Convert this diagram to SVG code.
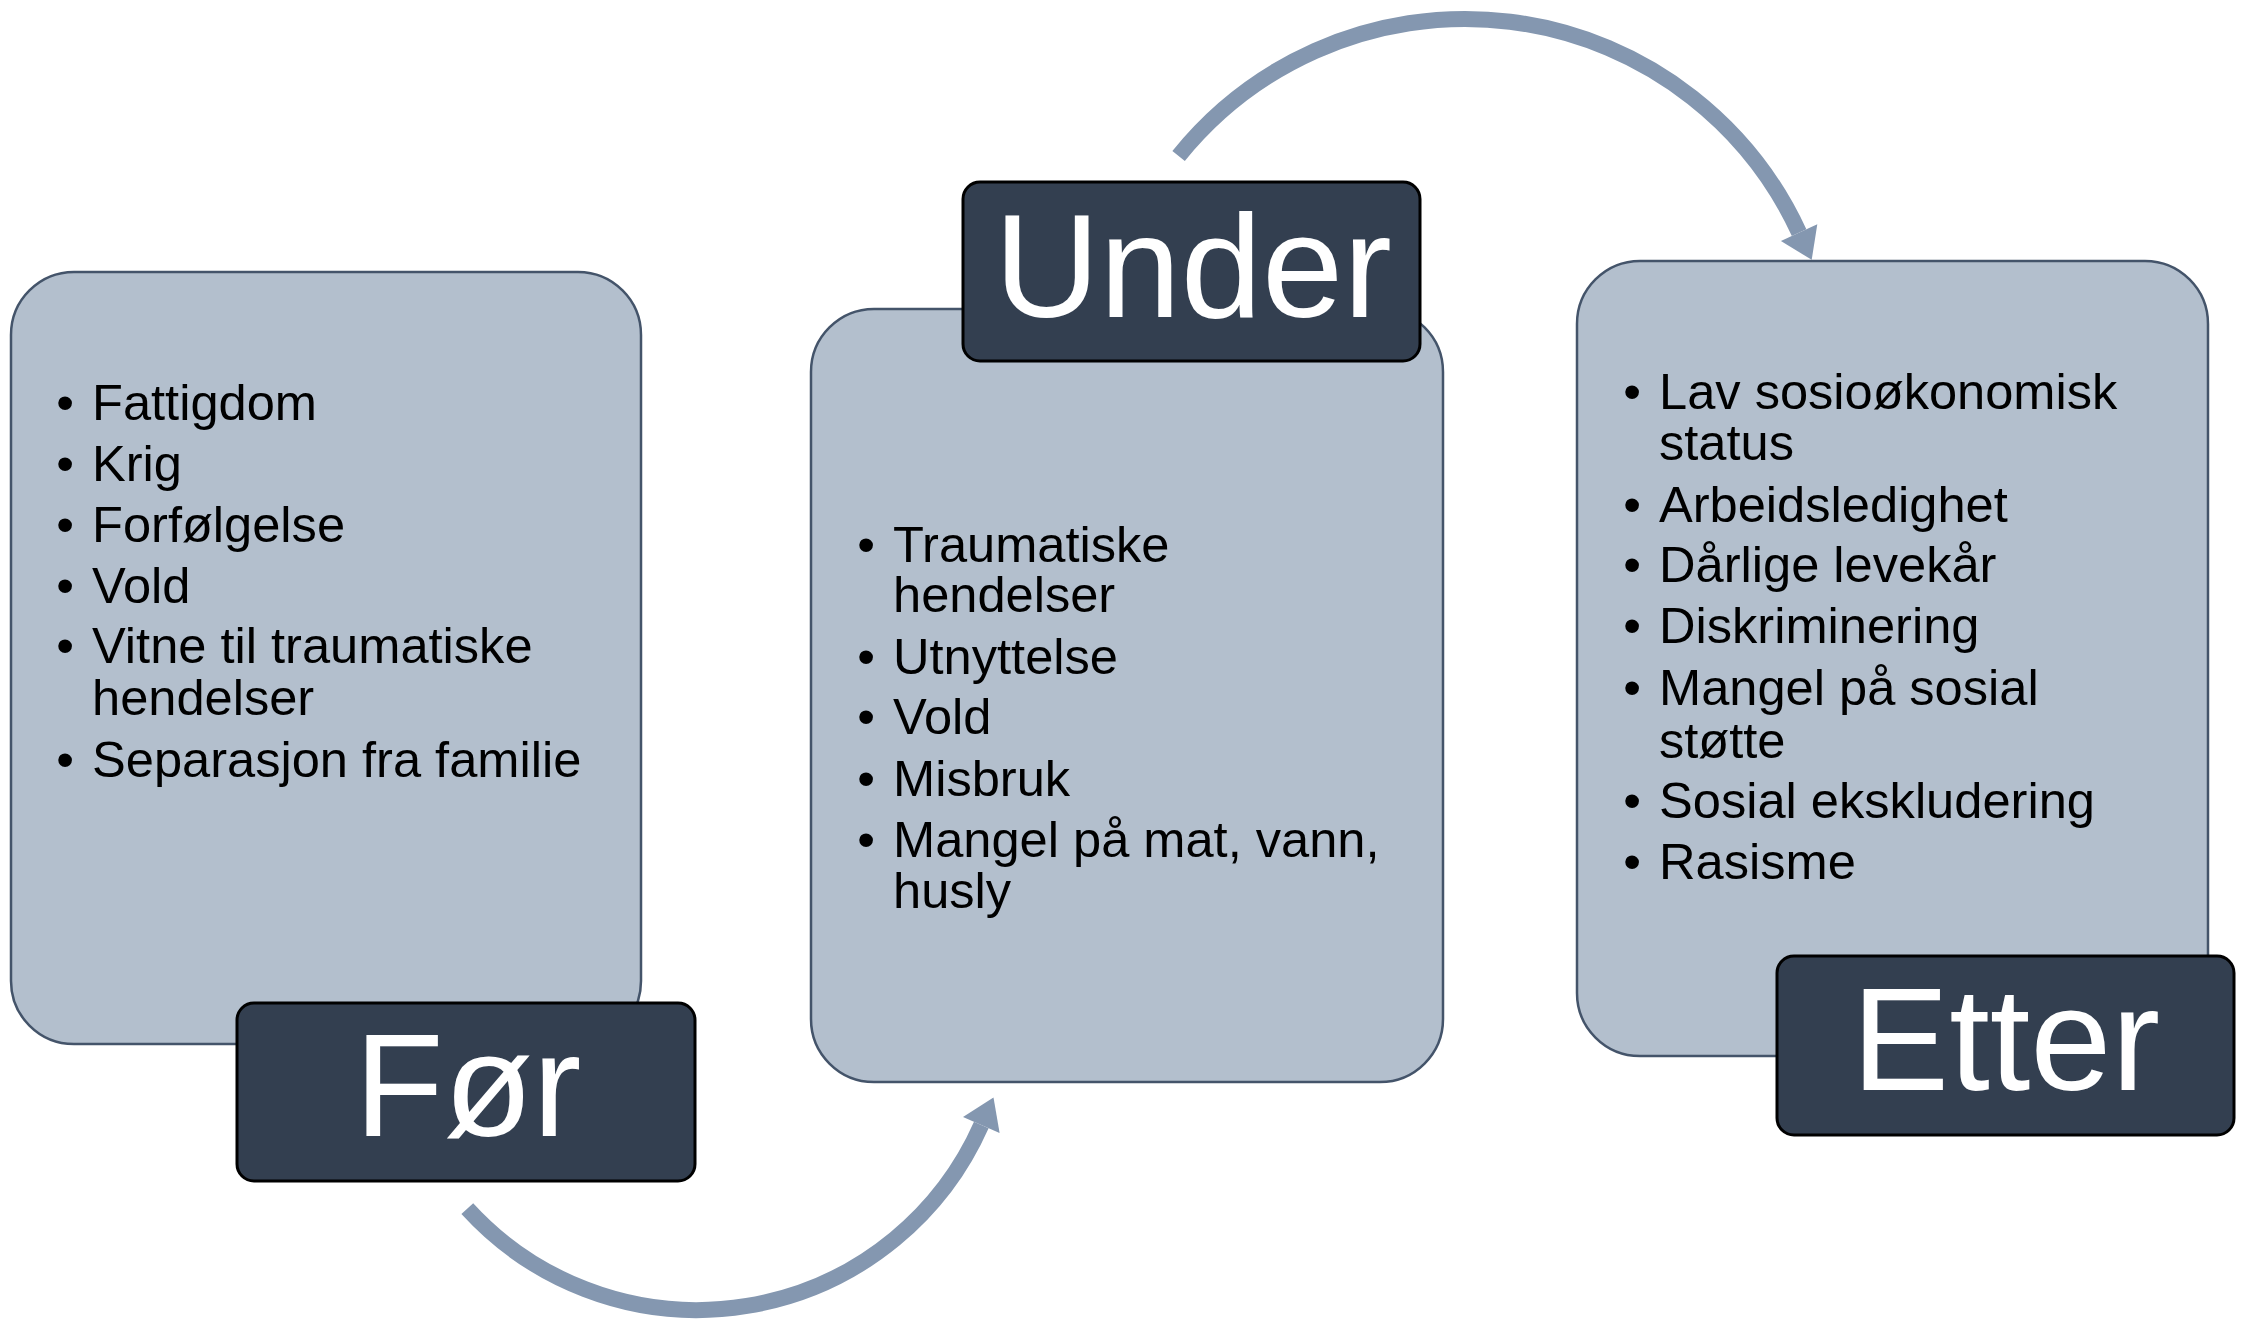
<svg xmlns="http://www.w3.org/2000/svg" width="2244" height="1319" viewBox="0 0 2244 1319">
<defs>
<style>
.box{fill:#B3BFCD;stroke:#44546A;stroke-width:2.5}
.lbl{fill:#333F50;stroke:#000000;stroke-width:3}
.lt{font-family:"Liberation Sans",Arial,sans-serif;font-size:146px;fill:#FFFFFF;text-anchor:middle}
.bt{font-family:"Liberation Sans",Arial,sans-serif;font-size:50.6px;fill:#000000}
.bu{font-family:"Liberation Sans",Arial,sans-serif;font-size:50.6px;fill:#000000;text-anchor:middle}
.arc{fill:none;stroke:#8497B0;stroke-width:16;stroke-linecap:butt}
.ah{fill:#8497B0}
</style>
</defs>
<rect width="2244" height="1319" fill="#FFFFFF"/>
<g id="connectors">
<path class="arc" d="M467.3,1208.7 A311,311 0 0 0 981.3,1125"/>
<polygon class="ah" points="993.5,1097.6 999.6,1133.1 963,1116.9"/>
<path class="arc" d="M1178.6,155.9 A368,368 0 0 1 1799.1,232.6"/>
<polygon class="ah" points="1811.7,259.8 1817.3,224.2 1780.9,241"/>
</g>
<g id="node-for">
<rect class="box" x="11" y="272" width="630" height="772" rx="63" ry="63"/>
<text class="bu" x="65" y="420">•</text><text class="bt" x="92" y="420">Fattigdom</text>
<text class="bu" x="65" y="481">•</text><text class="bt" x="92" y="481">Krig</text>
<text class="bu" x="65" y="542">•</text><text class="bt" x="92" y="542">Forfølgelse</text>
<text class="bu" x="65" y="603">•</text><text class="bt" x="92" y="603">Vold</text>
<text class="bu" x="65" y="663">•</text><text class="bt" x="92" y="663">Vitne til traumatiske<tspan x="92" y="715">hendelser</tspan></text>
<text class="bu" x="65" y="777">•</text><text class="bt" x="92" y="777">Separasjon fra familie</text>
</g>
<g id="label-for">
<rect class="lbl" x="237" y="1003" width="458" height="178" rx="17" ry="17"/>
<text class="lt" x="468" y="1136">Før</text>
</g>
<g id="node-under">
<rect class="box" x="811" y="309" width="632" height="773" rx="63" ry="63"/>
<text class="bu" x="866" y="562">•</text><text class="bt" x="893" y="562">Traumatiske<tspan x="893" y="612">hendelser</tspan></text>
<text class="bu" x="866" y="674">•</text><text class="bt" x="893" y="674">Utnyttelse</text>
<text class="bu" x="866" y="734">•</text><text class="bt" x="893" y="734">Vold</text>
<text class="bu" x="866" y="796">•</text><text class="bt" x="893" y="796">Misbruk</text>
<text class="bu" x="866" y="857">•</text><text class="bt" x="893" y="857">Mangel på mat, vann,<tspan x="893" y="908">husly</tspan></text>
</g>
<g id="label-under">
<rect class="lbl" x="963" y="182" width="457" height="179" rx="17" ry="17"/>
<text class="lt" x="1193" y="317">Under</text>
</g>
<g id="node-etter">
<rect class="box" x="1577" y="261" width="631" height="795" rx="63" ry="63"/>
<text class="bu" x="1632" y="409">•</text><text class="bt" x="1659" y="409">Lav sosioøkonomisk<tspan x="1659" y="460">status</tspan></text>
<text class="bu" x="1632" y="522">•</text><text class="bt" x="1659" y="522">Arbeidsledighet</text>
<text class="bu" x="1632" y="582">•</text><text class="bt" x="1659" y="582">Dårlige levekår</text>
<text class="bu" x="1632" y="643">•</text><text class="bt" x="1659" y="643">Diskriminering</text>
<text class="bu" x="1632" y="705">•</text><text class="bt" x="1659" y="705">Mangel på sosial<tspan x="1659" y="758">støtte</tspan></text>
<text class="bu" x="1632" y="818">•</text><text class="bt" x="1659" y="818">Sosial ekskludering</text>
<text class="bu" x="1632" y="879">•</text><text class="bt" x="1659" y="879">Rasisme</text>
</g>
<g id="label-etter">
<rect class="lbl" x="1777" y="956" width="457" height="179" rx="17" ry="17"/>
<text class="lt" x="2006" y="1090">Etter</text>
</g>
</svg>
